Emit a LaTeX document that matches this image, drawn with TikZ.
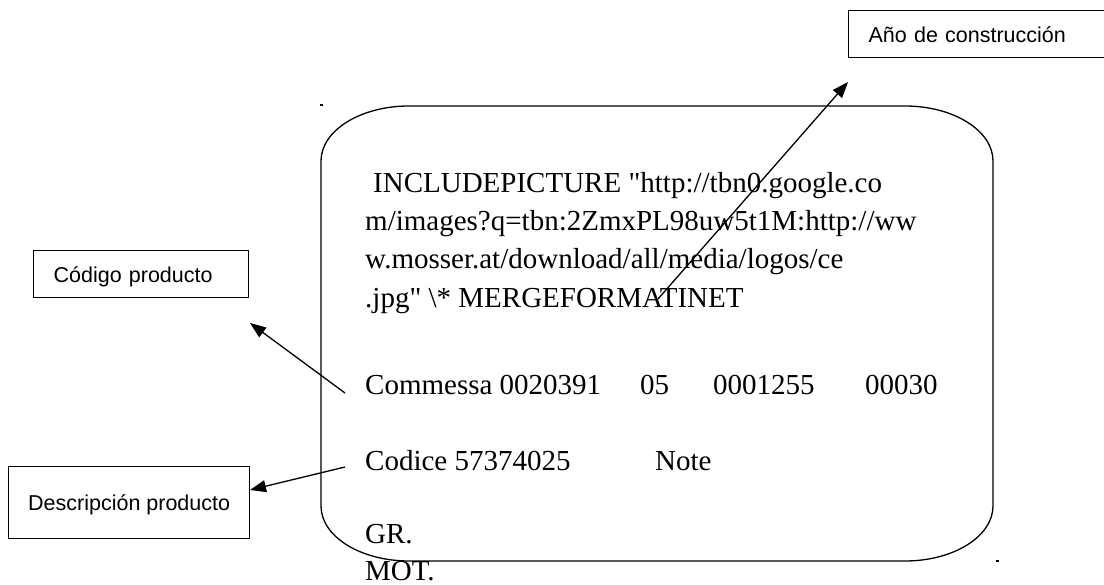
\documentclass[tikz,border=0pt]{standalone}
\usepackage{fontspec}
\setmainfont{Liberation Serif}
\newfontfamily\labelfont{Liberation Sans}
\usetikzlibrary{arrows.meta}
\begin{document}
\begin{tikzpicture}[x=1pt,y=-1pt,
  labelbox/.style={draw, line width=1.3pt, inner ysep=0pt, inner xsep=20pt,
    font=\labelfont\fontsize{21.5}{25}\selectfont, text height=17pt, text depth=0pt},
  bodytext/.style={anchor=base west, inner sep=0pt, font=\fontsize{29}{35}\selectfont},
  pointer/.style={line width=1.3pt, -{Triangle[length=16pt,width=12pt]}},
  speck/.style={fill=black}]
\useasboundingbox (0,0) rectangle (1104,585);
\fill[white] (0,0) rectangle (1104,585);

% plate outline with wide rounded corners
\draw[line width=1.3pt] (409,106) -- (905,106)
  arc[start angle=90, end angle=0, x radius=88pt, y radius=55pt] -- (993,506)
  arc[start angle=0, end angle=-90, x radius=88pt, y radius=55pt] -- (409,561)
  arc[start angle=-90, end angle=-180, x radius=88pt, y radius=55pt] -- (321,161)
  arc[start angle=180, end angle=90, x radius=88pt, y radius=55pt] -- cycle;

% plate text
\node[bodytext] (l1) at (373,193) {INCLUDEPICTURE \textquotedbl http://tbn0.google.co};
\node[bodytext] (l2) at (365,231) {m/images?q=tbn:2ZmxPL98uw5t1M:http://ww};
\node[bodytext] (l3) at (365,269) {w.mosser.at/download/all/media/logos/ce};
\node[bodytext] (l4) at (365,308) {.jpg\textquotedbl\ \textbackslash* MERGEFORMATINET};
\node[bodytext] (c1) at (365,395) {Commessa 0020391};
\node[bodytext] (c2) at (640,395) {05};
\node[bodytext] (c3) at (713,395) {0001255};
\node[bodytext] (c4) at (865,395) {00030};
\node[bodytext] (d1) at (365,471) {Codice 57374025};
\node[bodytext] (d2) at (655,471) {Note};
\node[bodytext] (g1) at (365,543) {GR.};
\node[bodytext] (m1) at (365,580) {MOT.};

% stray paragraph marks
\fill[speck] (320,104) rectangle (323,106.5);
\fill[speck] (996,560) rectangle (998.5,562);

% callout boxes
\node[labelbox, anchor=north west, minimum height=47pt, text width=232pt, align=left]
  (ano) at (848,10) {Año de construcción};
\node[labelbox, anchor=north west, minimum height=47pt, text width=175pt, align=left]
  (cod) at (33,250) {Código producto};
\node[labelbox, anchor=north west, minimum height=72pt, minimum width=241pt, inner xsep=0pt,
  text height=16pt] (des) at (8,466) {Descripción producto};

% pointer ends
\coordinate (anoTail) at (658,299);
\coordinate (anoTip) at (848,82);
\coordinate (codTail) at (345,393);
\coordinate (codTip) at (250,323);
\coordinate (desTail) at (345,467);
\coordinate (desTip) at (250,490);

\draw[pointer] (anoTail) -- (anoTip);
\draw[pointer] (codTail) -- (codTip);
\draw[pointer] (desTail) -- (desTip);
\end{tikzpicture}
\end{document}
